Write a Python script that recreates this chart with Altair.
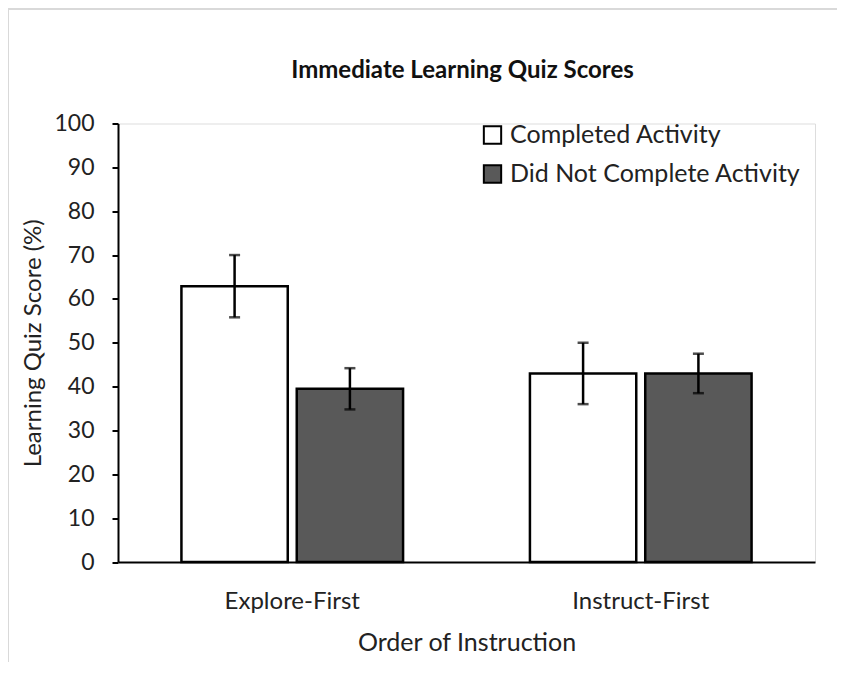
import altair as alt
import pandas as pd

orders = ["Explore-First", "Instruct-First"]
statuses = ["Completed Activity", "Did Not Complete Activity"]
completed_scores = [62.9, 43.0]
completed_err = [7.1, 7.0]
notcompleted_scores = [39.5, 43.0]
notcompleted_err = [4.7, 4.5]
bar_colors = ["#FFFFFF", "#595959"]
y_ticks = [0, 10, 20, 30, 40, 50, 60, 70, 80, 90, 100]
chart_title = "Immediate Learning Quiz Scores"

rows = []
for i, o in enumerate(orders):
    rows.append(dict(order=o, status=statuses[0], score=completed_scores[i],
                     lo=completed_scores[i] - completed_err[i], hi=completed_scores[i] + completed_err[i]))
    rows.append(dict(order=o, status=statuses[1], score=notcompleted_scores[i],
                     lo=notcompleted_scores[i] - notcompleted_err[i], hi=notcompleted_scores[i] + notcompleted_err[i]))
df = pd.DataFrame(rows)

FONT = "Lato"
W, H = 697, 438.5

x_enc = alt.X("order:N", sort=orders,
              scale=alt.Scale(paddingInner=0.364, paddingOuter=0.182),
              axis=alt.Axis(title="Order of Instruction", labelAngle=0, ticks=False,
                            domainColor="black", domainWidth=2, labelFontSize=24,
                            labelColor="#222222", labelPadding=27, titleFontSize=25,
                            titleFontWeight="normal", titleColor="#222222", titlePadding=17,
                            labelFont=FONT, titleFont=FONT))
xoff = alt.XOffset("status:N", sort=statuses, scale=alt.Scale(paddingInner=0.078, paddingOuter=0))

bars = alt.Chart(df).mark_bar(stroke="black", strokeWidth=2.5).encode(
    x=x_enc,
    xOffset=xoff,
    y=alt.Y("score:Q", scale=alt.Scale(domain=[0, 100], nice=False),
            axis=alt.Axis(title="Learning Quiz Score (%)", values=y_ticks, grid=False,
                          domainColor="black", domainWidth=2, tickColor="black", tickWidth=2,
                          tickSize=6, labelFontSize=23, labelColor="#222222", labelPadding=18,
                          titleFontSize=24, titleFontWeight="normal", titleColor="#222222",
                          titlePadding=8, labelFont=FONT, titleFont=FONT)),
    color=alt.Color("status:N", sort=statuses,
                    scale=alt.Scale(domain=statuses, range=bar_colors),
                    legend=alt.Legend(title=None, orient="none", legendX=362, legendY=-1,
                                      symbolType="square", symbolSize=300,
                                      symbolStrokeColor="black", symbolStrokeWidth=2,
                                      symbolOpacity=1, labelFontSize=25, labelFont=FONT,
                                      labelColor="#222222", rowPadding=12, labelOffset=5,
                                      labelLimit=0)),
)

rules = alt.Chart(df).mark_rule(color="black", strokeWidth=2.5).encode(
    x=alt.X("order:N", sort=orders), xOffset=xoff,
    y="lo:Q", y2="hi:Q",
)
caps_lo = alt.Chart(df).mark_tick(color="black", thickness=2.5, size=11, orient="horizontal").encode(
    x=alt.X("order:N", sort=orders), xOffset=xoff, y="lo:Q")
caps_hi = alt.Chart(df).mark_tick(color="black", thickness=2.5, size=11, orient="horizontal").encode(
    x=alt.X("order:N", sort=orders), xOffset=xoff, y="hi:Q")

title_text = alt.Chart(pd.DataFrame({"t": [chart_title]})).mark_text(
    font=FONT, fontSize=24, fontWeight="bold", color="#111111", align="center", baseline="middle"
).encode(text="t:N", x=alt.value(W / 2 - 4), y=alt.value(-53))

frame_left = alt.Chart(df).mark_rule(color="#D9D9D9", strokeWidth=2).encode(
    x=alt.value(-110), y=alt.value(-114.5), y2=alt.value(H + 100))
frame_top = alt.Chart(df).mark_rule(color="#D9D9D9", strokeWidth=2).encode(
    x=alt.value(-110), x2=alt.value(W + 22), y=alt.value(-114.5))

chart = alt.layer(bars, rules, caps_lo, caps_hi, title_text, frame_left, frame_top).properties(
    width=W, height=H,
    autosize=alt.AutoSizeParams(type="none"),
    padding={"left": 110, "top": 115.5, "right": 22, "bottom": 100},
).configure_view(stroke=None).configure(background="white")

chart.save("out.html", embed_options={"renderer": "svg", "actions": False})
